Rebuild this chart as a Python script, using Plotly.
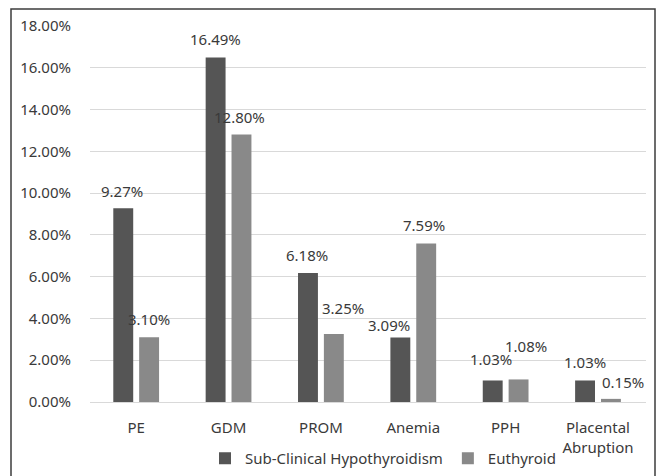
import plotly.graph_objects as go

# Complication rates (%) by thyroid status
categories = ["PE", "GDM", "PROM", "Anemia", "PPH", "Placental<br>Abruption"]
subclinical = [9.27, 16.49, 6.18, 3.09, 1.03, 1.03]
euthyroid = [3.10, 12.80, 3.25, 7.59, 1.08, 0.15]
series_names = ["Sub-Clinical Hypothyroidism", "Euthyroid"]
y_ticks = [0, 2, 4, 6, 8, 10, 12, 14, 16, 18]

W, H = 659, 476
M_L, M_R, M_T, M_B = 90, 13, 26, 74
PLOT_W = W - M_L - M_R
PLOT_H = H - M_T - M_B

FONT = "Noto Sans"
TEXT = "#3a3a3a"
DARK = "#555555"
LIGHT = "#898989"


def px_x(px):
    return (px - M_L) / PLOT_W


def px_y(py):
    return (H - M_B - py) / PLOT_H


fig = go.Figure()
fig.add_trace(go.Bar(x=categories, y=subclinical, name=series_names[0],
                     marker=dict(color=DARK, line=dict(width=0))))
fig.add_trace(go.Bar(x=categories, y=euthyroid, name=series_names[1],
                     marker=dict(color=LIGHT, line=dict(width=0))))

# value labels: offset from bar centre (dx) and height above bar top (dy), in px
bar_offset = 13
dark_shift = [(-1, 17), (0, 19), (-1, 18), (-11, 12), (-2, 21), (0, 18)]
light_shift = [(0, 18), (-2, 18), (9, 26), (-2, 18), (7, 33), (12, 17)]
for vals, shifts, side in ((subclinical, dark_shift, -1), (euthyroid, light_shift, 1)):
    for cat, v, (dx, dy) in zip(categories, vals, shifts):
        fig.add_annotation(x=cat, y=v, xref="x", yref="y", text=f"{v:.2f}%",
                           showarrow=False, xanchor="center", yanchor="middle",
                           xshift=side * bar_offset + dx, yshift=dy,
                           font=dict(family=FONT, size=15, color=TEXT))

# chart frame
fig.add_shape(type="rect", xref="paper", yref="paper",
              x0=px_x(11), x1=px_x(655), y0=px_y(480), y1=px_y(9),
              line=dict(color="#3c3c3c", width=1.5), fillcolor="rgba(0,0,0,0)",
              layer="below")

fig.update_layout(
    width=W, height=H,
    margin=dict(l=M_L, r=M_R, t=M_T, b=M_B, pad=0, autoexpand=False),
    paper_bgcolor="white", plot_bgcolor="white",
    barmode="group", bargap=0.44, bargroupgap=0.23,
    font=dict(family=FONT, size=15, color=TEXT),
    showlegend=True,
    legend=dict(orientation="h", x=px_x(205), xanchor="left",
                y=px_y(442), yanchor="top",
                font=dict(family=FONT, size=15, color=TEXT),
                bgcolor="rgba(0,0,0,0)"),
    xaxis=dict(showgrid=False, showline=False, ticks="", ticklabelstandoff=15,
               automargin=False,
               tickfont=dict(family=FONT, size=15, color=TEXT)),
    yaxis=dict(range=[0, 18], tickvals=y_ticks,
               ticktext=[f"{t:.2f}%" for t in y_ticks],
               showgrid=True, gridcolor="#d9d9d9", gridwidth=1.3,
               zeroline=True, zerolinecolor="#d9d9d9", zerolinewidth=1.3,
               showline=False, ticks="", ticklabelstandoff=18, automargin=False,
               tickfont=dict(family=FONT, size=15, color=TEXT)),
)

fig.write_html("out.html")
